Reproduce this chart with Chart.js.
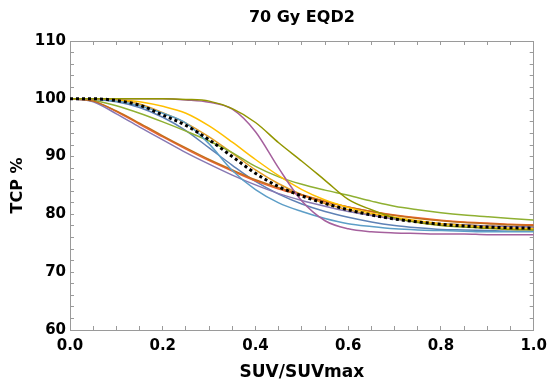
<!DOCTYPE html>
<html><head><meta charset="utf-8">
<script src="https://cdn.jsdelivr.net/npm/chart.js@4.4.1/dist/chart.umd.min.js"></script>
<style>html,body{margin:0;padding:0;background:#fff}</style>
</head><body>
<canvas id="c" width="558" height="381" style="display:block;width:558px;height:381px"></canvas>
<script>
// SUV/SUVmax sample positions
const xValues = [0,0.05,0.1,0.15,0.2,0.25,0.3,0.35,0.4,0.45,0.5,0.55,0.6,0.65,0.7,0.75,0.8,0.85,0.9,0.95,1.0];
// TCP % curves
const meanTCP      = [100,100,99.7,98.9,97.2,95.4,92.9,90.0,87.1,84.8,83.2,81.9,80.8,79.9,79.2,78.7,78.3,78.0,77.8,77.7,77.6];
const blueTCP      = [100,99.9,99.5,98.5,96.8,94.5,91.5,88.5,85.7,83.5,81.8,80.5,79.5,78.7,78.1,77.7,77.4,77.3,77.2,77.1,77.1];
const orangeTCP    = [100,100,99.8,99.1,97.6,95.8,93.4,90.6,87.7,85.3,83.4,81.9,80.8,79.9,79.2,78.8,78.4,78.2,78.0,77.9,77.8];
const greenTCP     = [100,99.7,98.8,97.5,96.0,94.4,92.7,90.7,88.3,86.5,85.2,84.2,83.3,82.3,81.4,80.8,80.3,79.9,79.6,79.3,79.0];
const redTCP       = [100,99.6,97.8,95.6,93.4,91.3,89.3,87.5,85.8,84.4,83.3,82.2,81.3,80.5,79.9,79.4,79.0,78.7,78.5,78.3,78.2];
const purpleTCP    = [100,99.5,97.4,95.1,92.9,90.7,88.7,86.8,85.1,83.6,82.4,81.4,80.5,79.8,79.2,78.7,78.4,78.2,78.0,77.9,77.8];
const darkOrTCP    = [100,99.6,97.9,95.8,93.6,91.5,89.5,87.7,86.0,84.6,83.4,82.3,81.3,80.5,79.8,79.3,78.9,78.6,78.4,78.2,78.1];
const lightBlueTCP = [100,100,99.6,98.8,97.5,95.8,92.2,87.6,84.3,82.0,80.5,79.3,78.4,77.9,77.5,77.3,77.2,77.1,77.0,77.0,77.0];
const yellowTCP    = [100,100,99.9,99.5,98.7,97.5,95.3,92.5,89.5,86.7,84.3,82.5,81.2,80.2,79.5,78.9,78.4,78.1,77.8,77.6,77.5];
const magentaTCP   = [100,100,100,100,100,99.8,99.4,98.2,94.3,88.0,82.3,78.9,77.5,77.0,76.8,76.7,76.6,76.6,76.5,76.5,76.5];
const oliveTCP     = [100,100,100,100,100,99.9,99.6,98.3,95.9,92.4,89.2,85.9,82.6,80.8,79.4,78.6,78.1,77.8,77.6,77.4,77.3];
const yTickLabels = [60,70,80,90,100,110];
const xTickLabels = [0,0.2,0.4,0.6,0.8,1.0];

const toPts = arr => arr.map((v,i)=>({x:xValues[i], y:v}));
const FONT = "'DejaVu Sans', 'Liberation Sans', Arial, sans-serif";
const FRAME = '#9a9a9a';

const series = [
  {d: meanTCP, c:'#000000', w:3, dash:[3,3]},
  {d: oliveTCP, c:'#929600'},
  {d: magentaTCP, c:'#A5609D'},
  {d: yellowTCP, c:'#FFBF00'},
  {d: lightBlueTCP, c:'#5D9EC7'},
  {d: darkOrTCP, c:'#C56E1A'},
  {d: purpleTCP, c:'#8778B3'},
  {d: redTCP, c:'#EB6235'},
  {d: greenTCP, c:'#8FB032'},
  {d: orangeTCP, c:'#E19C24'},
  {d: blueTCP, c:'#5E81B5'}
];

const datasets = series.map(s => ({
  data: toPts(s.d),
  borderColor: s.c,
  borderWidth: s.w || 1.5,
  borderDash: s.dash || [],
  borderCapStyle: 'butt',
  pointRadius: 0,
  fill: false,
  cubicInterpolationMode: 'monotone'
}));

const isMajorX = v => xTickLabels.some(t => Math.abs(t - v) < 1e-6);
const isMajorY = v => yTickLabels.some(t => Math.abs(t - v) < 1e-6);

const gridCfg = {drawOnChartArea:false, drawTicks:true, tickLength:-4, tickColor:FRAME, tickWidth:1};
const borderCfg = {display:true, color:FRAME, width:1};

new Chart(document.getElementById('c'), {
  type: 'line',
  data: {datasets},
  options: {
    responsive:false, animation:false, devicePixelRatio:1,
    layout:{padding:0},
    plugins:{legend:{display:false}, tooltip:{enabled:false}},
    scales:{
      x:{type:'linear', position:'bottom', min:0, max:1,
        ticks:{stepSize:0.05, autoSkip:false, maxRotation:0, padding:11, color:'#000',
          font:{family:FONT, size:15, weight:'bold'},
          callback: v => isMajorX(v) ? v.toFixed(1) : ''},
        grid:gridCfg, border:borderCfg,
        title:{display:true, text:'SUV/SUVmax', color:'#000', padding:0,
          font:{family:FONT, size:17, weight:'bold', lineHeight:1.0}},
        afterFit: s => { s.height = 51; }
      },
      x2:{type:'linear', position:'top', min:0, max:1,
        ticks:{stepSize:0.05, autoSkip:false, display:false},
        grid:gridCfg, border:borderCfg,
        title:{display:true, text:'70 Gy EQD2', color:'#000', padding:{top:8, bottom:0},
          font:{family:FONT, size:16, weight:'bold'}},
        afterFit: s => { s.height = 41; }
      },
      y:{type:'linear', position:'left', min:60, max:110,
        ticks:{stepSize:2, autoSkip:false, padding:8, color:'#000',
          font:{family:FONT, size:15, weight:'bold'},
          callback: v => isMajorY(v) ? String(v) : ''},
        grid:gridCfg, border:borderCfg,
        title:{display:true, text:'TCP %', color:'#000', padding:{top:8, bottom:0},
          font:{family:FONT, size:16, weight:'bold'}},
        afterFit: s => { s.width = 70; }
      },
      y2:{type:'linear', position:'right', min:60, max:110,
        ticks:{stepSize:2, autoSkip:false, display:false},
        grid:gridCfg, border:borderCfg,
        afterFit: s => { s.width = 15; }
      }
    }
  }
});
</script>
</body></html>
